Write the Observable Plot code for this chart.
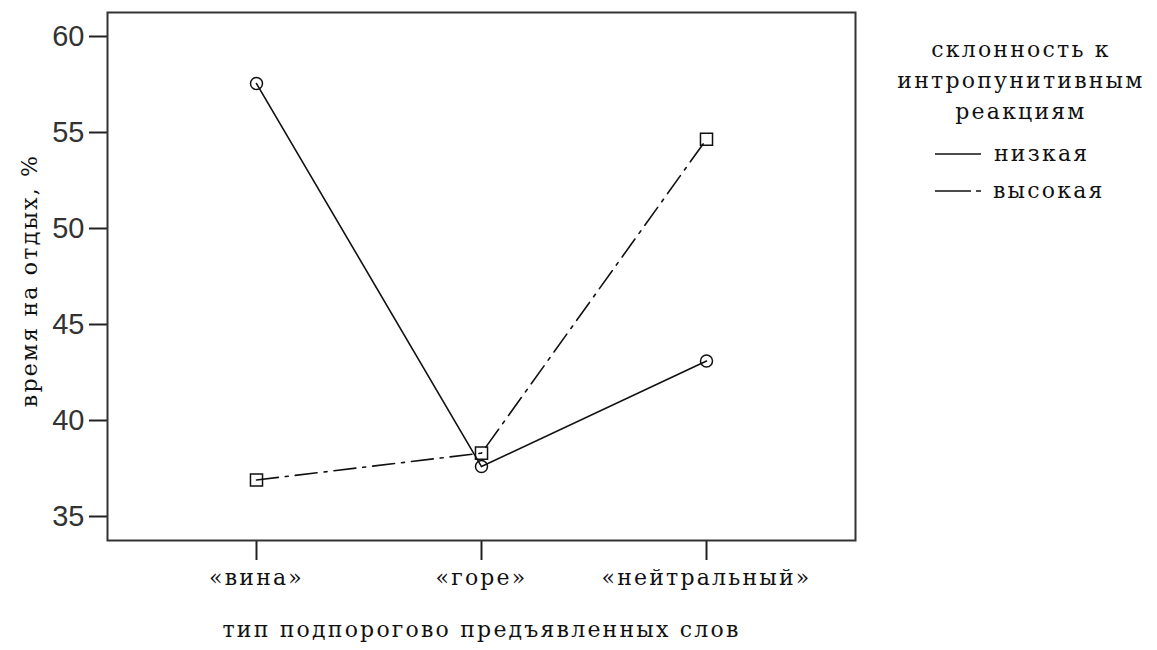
<!DOCTYPE html>
<html>
<head>
<meta charset="utf-8">
<script src="https://cdn.jsdelivr.net/npm/d3@7"></script>
<script src="https://cdn.jsdelivr.net/npm/@observablehq/plot@0.6"></script>
<style>
  html, body { margin: 0; padding: 0; background: #fff; }
  #wrap { position: relative; width: 1157px; height: 650px; }
  #legend { position: absolute; left: 0; top: 0; pointer-events: none; }
</style>
</head>
<body>
<div id="wrap"></div>
<script>
const categories = ["«вина»", "«горе»", "«нейтральный»"];
const seriesNames = ["низкая", "высокая"];
const lowValues = [57.55, 37.6, 43.1];
const highValues = [36.9, 38.3, 54.65];
const yTicks = [35, 40, 45, 50, 55, 60];
const yTitle = "время на отдых, %";
const xTitle = "тип подпорогово предъявленных слов";
const legendTitle = ["склонность к", "интропунитивным", "реакциям"];

const lowData = categories.map((c, i) => ({cat: c, value: lowValues[i], series: seriesNames[0]}));
const highData = categories.map((c, i) => ({cat: c, value: highValues[i], series: seriesNames[1]}));

const serif = "DejaVu Serif";
const serifSize = 22;
const spacing = "2.2px";
const dashDot = "22,7,3,7";

const chart = Plot.plot({
  width: 1157,
  height: 650,
  marginLeft: 107,
  marginRight: 302,
  marginTop: 12,
  marginBottom: 110,
  style: {background: "#fff", color: "#000", overflow: "visible"},
  x: {type: "point", domain: categories, padding: 0.655, label: null},
  y: {domain: [33.75, 61.25], label: null},
  marks: [
    Plot.axisY({ticks: yTicks, tickSize: 18, tickPadding: 5, strokeWidth: 2, stroke: "#222",
      fontSize: 29, fontFamily: "Liberation Sans Narrow, Arial Narrow, Liberation Sans, sans-serif", fill: "#333", label: null}),
    Plot.axisX({tickSize: 20, tickPadding: 9, strokeWidth: 2, stroke: "#222",
      fontSize: serifSize, fontFamily: serif, fill: "#111", label: null}),
    Plot.frame({stroke: "#333", strokeWidth: 2}),
    Plot.line(lowData, {x: "cat", y: "value", stroke: "#111", strokeWidth: 1.6}),
    Plot.line(highData, {x: "cat", y: "value", stroke: "#111", strokeWidth: 1.6, strokeDasharray: dashDot}),
    Plot.dot(lowData, {x: "cat", y: "value", symbol: "circle", r: 6, stroke: "#111", fill: "none", strokeWidth: 1.5}),
    Plot.dot(highData, {x: "cat", y: "value", symbol: "square", r: 6.8, stroke: "#111", fill: "none", strokeWidth: 1.5}),
    Plot.text([yTitle], {frameAnchor: "left", dx: -78, dy: 4, rotate: -90, textAnchor: "middle",
      fontSize: serifSize, fontFamily: serif, fill: "#111"}),
    Plot.text([xTitle], {frameAnchor: "bottom", dy: 96, textAnchor: "middle",
      fontSize: serifSize, fontFamily: serif, fill: "#111"})
  ]
});

d3.select(chart).selectAll("text").each(function() {
  const fam = this.getAttribute("font-family") || (this.parentNode && this.parentNode.getAttribute && this.parentNode.getAttribute("font-family"));
  if (fam === serif) this.style.letterSpacing = spacing;
});

const wrap = document.getElementById("wrap");
wrap.appendChild(chart);

// Legend overlay
const lg = d3.select(wrap).append("svg")
  .attr("id", "legend").attr("width", 1157).attr("height", 650)
  .attr("font-family", serif).attr("font-size", serifSize).attr("fill", "#111")
  .style("letter-spacing", spacing);

legendTitle.forEach((t, i) => {
  lg.append("text").attr("x", 1021).attr("y", 57 + i * 31).attr("text-anchor", "middle").text(t);
});
lg.append("line").attr("x1", 935).attr("x2", 981).attr("y1", 154).attr("y2", 154)
  .attr("stroke", "#111").attr("stroke-width", 1.6);
lg.append("text").attr("x", 994).attr("y", 161).text(seriesNames[0]);
lg.append("line").attr("x1", 935).attr("x2", 981).attr("y1", 191).attr("y2", 191)
  .attr("stroke", "#111").attr("stroke-width", 1.6).attr("stroke-dasharray", "36,5,6,5");
lg.append("text").attr("x", 993).attr("y", 198).text(seriesNames[1]);
</script>
</body>
</html>
